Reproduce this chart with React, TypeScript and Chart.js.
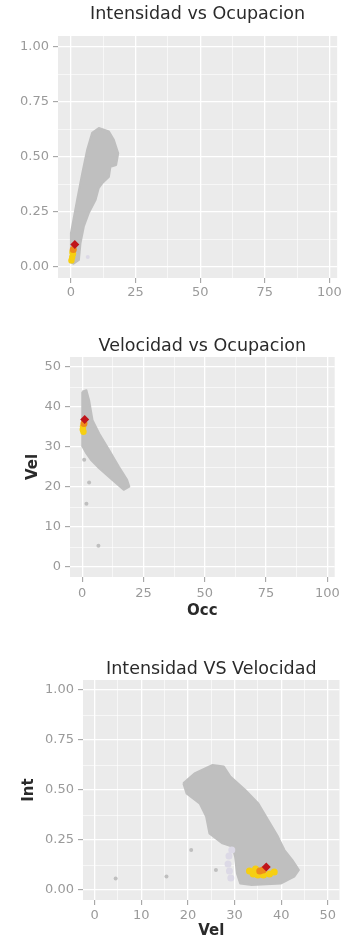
import React, { useEffect, useRef } from 'react';
import { Chart, registerables } from 'chart.js';

Chart.register(...registerables);

// ---------- Panel 1: Intensidad vs Ocupacion ----------
const P1_TITLE = 'Intensidad vs Ocupacion';
const P1_X_MAJOR = [0, 25, 50, 75, 100];
const P1_X_MINOR = [12.5, 37.5, 62.5, 87.5];
const P1_Y_MAJOR = [0, 0.25, 0.5, 0.75, 1];
const P1_Y_MINOR = [0.125, 0.375, 0.625, 0.875];
const P1_CLOUD_OCC = [0, 0, 2.4, 4.4, 6.3, 8.2, 10.8, 14.7, 16.6, 18.3, 17.5, 15.3, 14.7, 12.1, 10.8, 9.5, 6.9, 5.0, 3.7, 3.1, 1.0];
const P1_CLOUD_INT = [0.02, 0.154, 0.306, 0.428, 0.534, 0.61, 0.632, 0.616, 0.578, 0.517, 0.464, 0.456, 0.41, 0.38, 0.36, 0.304, 0.245, 0.184, 0.108, 0.032, 0.015];
const P1_HAZE_OCC = [6.5];
const P1_HAZE_INT = [0.045];
const P1_YELLOW_OCC = [0.2, 0.5, 0.8, 0.6];
const P1_YELLOW_INT = [0.03, 0.045, 0.06, 0.068];
const P1_ORANGE_OCC = [0.9];
const P1_ORANGE_INT = [0.08];
const P1_RED_OCC = [1.5];
const P1_RED_INT = [0.102];

// ---------- Panel 2: Velocidad vs Ocupacion ----------
const P2_TITLE = 'Velocidad vs Ocupacion';
const P2_X_TITLE = 'Occ';
const P2_Y_TITLE = 'Vel';
const P2_X_MAJOR = [0, 25, 50, 75, 100];
const P2_X_MINOR = [12.5, 37.5, 62.5, 87.5];
const P2_Y_MAJOR = [0, 10, 20, 30, 40, 50];
const P2_Y_MINOR = [5, 15, 25, 35, 45];
const P2_CLOUD_OCC = [0, 1.7, 2.8, 4.2, 6.9, 10.9, 14.9, 18.3, 19.2, 16.9, 12.2, 6.9, 3.5, 1.7, 0.1, 0, 0];
const P2_CLOUD_VEL = [43.8, 44.2, 41.7, 36.7, 33.4, 29.3, 25.1, 21.8, 20.1, 19.3, 21.8, 24.7, 26.8, 28.4, 30.1, 33.4, 39.2];
const P2_OUT_OCC = [0.8, 2.8, 1.7, 6.6];
const P2_OUT_VEL = [26.8, 21.1, 15.8, 5.3];
const P2_YELLOW_OCC = [0.3, 0.5, 0.2];
const P2_YELLOW_VEL = [35.1, 33.8, 34.4];
const P2_ORANGE_OCC = [0.7];
const P2_ORANGE_VEL = [35.9];
const P2_RED_OCC = [1.0];
const P2_RED_VEL = [36.9];

// ---------- Panel 3: Intensidad VS Velocidad ----------
const P3_TITLE = 'Intensidad VS Velocidad';
const P3_X_TITLE = 'Vel';
const P3_Y_TITLE = 'Int';
const P3_X_MAJOR = [0, 10, 20, 30, 40, 50];
const P3_X_MINOR = [5, 15, 25, 35, 45];
const P3_Y_MAJOR = [0, 0.25, 0.5, 0.75, 1];
const P3_Y_MINOR = [0.125, 0.375, 0.625, 0.875];
const P3_CLOUD_VEL = [19.0, 21.4, 25.3, 27.7, 29.1, 32.3, 35.1, 37.2, 39.3, 40.7, 42.4, 43.8, 42.8, 40.0, 33.7, 31.2, 30.5, 30.1, 29.5, 27.4, 24.6, 23.9, 22.5, 19.7];
const P3_CLOUD_INT = [0.534, 0.583, 0.625, 0.617, 0.567, 0.5, 0.433, 0.35, 0.267, 0.2, 0.15, 0.1, 0.067, 0.033, 0.025, 0.033, 0.083, 0.167, 0.217, 0.233, 0.283, 0.367, 0.433, 0.483];
const P3_OUT_VEL = [4.5, 15.4, 20.7, 26.0];
const P3_OUT_INT = [0.058, 0.067, 0.2, 0.1];
const P3_HAZE_VEL = [28.6, 28.9, 29.2, 28.8, 29.4];
const P3_HAZE_INT = [0.13, 0.095, 0.06, 0.17, 0.2];
const P3_YELLOW_VEL = [33.2, 34.0, 35.0, 36.2, 37.5, 38.5, 34.5];
const P3_YELLOW_INT = [0.095, 0.08, 0.075, 0.075, 0.08, 0.09, 0.105];
const P3_ORANGE_VEL = [35.4, 36.1];
const P3_ORANGE_INT = [0.095, 0.1];
const P3_RED_VEL = [36.8];
const P3_RED_INT = [0.115];

// ---------- styling ----------
const FONT = "'DejaVu Sans', 'Liberation Sans', sans-serif";
const GREY = '#bfbfbf';
const HAZE = '#dcd9e6';
const YELLOW = '#f6cf12';
const ORANGE = '#ee8a1c';
const RED = '#c0141a';
const PANEL_BG = '#ebebeb';
const TICK_COLOR = '#9a9a9a';
const TEXT_DARK = '#2a2a2a';

function zip(xs: number[], ys: number[]) {
  return xs.map((x, i) => ({ x, y: ys[i] }));
}
function ring(xs: number[], ys: number[]) {
  const p = zip(xs, ys);
  return p.concat([p[0]]);
}
function isIn(list: number[], v: number) {
  return list.some((m) => Math.abs(m - v) < 1e-6);
}

const panelBg = {
  id: 'panelBg',
  beforeDraw(chart: any) {
    const { ctx, chartArea: a } = chart;
    if (!a) return;
    ctx.save();
    ctx.fillStyle = PANEL_BG;
    ctx.fillRect(a.left, a.top, a.right - a.left, a.bottom - a.top);
    ctx.restore();
  },
};

type AxisSpec = {
  min: number;
  max: number;
  major: number[];
  minor: number[];
  fmt: (v: number) => string;
  size: number;
  tickPad: number;
  title?: string;
  titlePad?: number;
};

function makeAxis(kind: 'x' | 'y', s: AxisSpec) {
  const all = [...s.major, ...s.minor].sort((a, b) => a - b);
  return {
    type: 'linear',
    position: kind === 'x' ? 'bottom' : 'left',
    min: s.min,
    max: s.max,
    afterBuildTicks: (scale: any) => {
      scale.ticks = all.map((v) => ({ value: v }));
    },
    afterFit: (scale: any) => {
      if (kind === 'x') scale.height = s.size;
      else scale.width = s.size;
    },
    grid: {
      color: '#ffffff',
      lineWidth: (ctx: any) => (ctx.tick && isIn(s.major, ctx.tick.value) ? 1.3 : 0.6),
      tickColor: (ctx: any) => (ctx.tick && isIn(s.major, ctx.tick.value) ? TICK_COLOR : 'rgba(0,0,0,0)'),
      tickLength: 5,
      tickWidth: 1,
      drawTicks: true,
    },
    border: { display: false },
    ticks: {
      autoSkip: false,
      maxRotation: 0,
      minRotation: 0,
      color: TICK_COLOR,
      padding: s.tickPad,
      font: { family: FONT, size: 13 },
      callback: (v: any) => (isIn(s.major, Number(v)) ? s.fmt(Number(v)) : ''),
    },
    title: s.title
      ? {
          display: true,
          text: s.title,
          color: TEXT_DARK,
          font: { family: FONT, size: 15, weight: 'bold', lineHeight: 1.2 },
          padding: kind === 'x' ? { top: 0, bottom: s.titlePad ?? 0 } : { top: s.titlePad ?? 0, bottom: 0 },
        }
      : { display: false },
  };
}

function pointSet(xs: number[], ys: number[], color: string, radius: number, order: number, style = 'circle') {
  return {
    type: 'scatter',
    data: zip(xs, ys),
    backgroundColor: color,
    borderColor: color,
    borderWidth: 0,
    pointRadius: radius,
    pointStyle: style,
    order,
  };
}

function cloudSet(xs: number[], ys: number[]) {
  return {
    type: 'line',
    data: ring(xs, ys),
    fill: 'shape',
    backgroundColor: GREY,
    borderColor: GREY,
    borderWidth: 2,
    borderJoinStyle: 'round',
    pointRadius: 0,
    tension: 0,
    order: 10,
  };
}

type PanelProps = {
  top: number;
  height: number;
  title: string;
  titlePad: { top: number; bottom: number };
  padRight: number;
  x: AxisSpec;
  y: AxisSpec;
  datasets: any[];
};

function Panel(props: PanelProps) {
  const ref = useRef<HTMLCanvasElement | null>(null);
  useEffect(() => {
    if (!ref.current) return;
    const chart = new Chart(ref.current, {
      type: 'scatter',
      data: { datasets: props.datasets },
      options: {
        responsive: false,
        animation: false,
        devicePixelRatio: 1,
        layout: { padding: { left: 0, right: props.padRight, top: 0, bottom: 0 } },
        plugins: {
          legend: { display: false },
          tooltip: { enabled: false },
          title: {
            display: true,
            text: props.title,
            fullSize: false,
            color: TEXT_DARK,
            font: { family: FONT, size: 17.5, weight: 'normal', lineHeight: 1.2 },
            padding: props.titlePad,
          },
        },
        scales: {
          x: makeAxis('x', props.x),
          y: makeAxis('y', props.y),
        },
      } as any,
      plugins: [panelBg],
    } as any);
    return () => chart.destroy();
  }, []);
  return (
    <canvas
      ref={ref}
      width={344}
      height={props.height}
      style={{ position: 'absolute', left: 0, top: props.top, width: 344, height: props.height }}
    />
  );
}

const fmt2 = (v: number) => v.toFixed(2);
const fmt0 = (v: number) => String(Math.round(v));

export default function App() {
  return (
    <div style={{ position: 'absolute', left: 0, top: 0, width: 344, height: 940, background: '#ffffff' }}>
      <Panel
        top={0}
        height={300}
        title={P1_TITLE}
        titlePad={{ top: 4, bottom: 11 }}
        padRight={5}
        x={{ min: -5, max: 103, major: P1_X_MAJOR, minor: P1_X_MINOR, fmt: fmt0, size: 22, tickPad: 2 }}
        y={{ min: -0.05, max: 1.05, major: P1_Y_MAJOR, minor: P1_Y_MINOR, fmt: fmt2, size: 58, tickPad: 4 }}
        datasets={[
          pointSet(P1_RED_OCC, P1_RED_INT, RED, 4.5, 0, 'rectRot'),
          pointSet(P1_ORANGE_OCC, P1_ORANGE_INT, ORANGE, 3.5, 1),
          pointSet(P1_YELLOW_OCC, P1_YELLOW_INT, YELLOW, 3.2, 2),
          pointSet(P1_HAZE_OCC, P1_HAZE_INT, HAZE, 2, 3),
          cloudSet(P1_CLOUD_OCC, P1_CLOUD_INT),
        ]}
      />
      <Panel
        top={300}
        height={330}
        title={P2_TITLE}
        titlePad={{ top: 36, bottom: 0 }}
        padRight={5}
        x={{ min: -5, max: 103, major: P2_X_MAJOR, minor: P2_X_MINOR, fmt: fmt0, size: 53, tickPad: 4, title: P2_X_TITLE, titlePad: 9.6 }}
        y={{ min: -2.5, max: 52.5, major: P2_Y_MAJOR, minor: P2_Y_MINOR, fmt: fmt0, size: 70, tickPad: 4, title: P2_Y_TITLE, titlePad: 24.5 }}
        datasets={[
          pointSet(P2_RED_OCC, P2_RED_VEL, RED, 4.5, 0, 'rectRot'),
          pointSet(P2_ORANGE_OCC, P2_ORANGE_VEL, ORANGE, 3.5, 1),
          pointSet(P2_YELLOW_OCC, P2_YELLOW_VEL, YELLOW, 3.2, 2),
          pointSet(P2_OUT_OCC, P2_OUT_VEL, GREY, 2, 5),
          cloudSet(P2_CLOUD_OCC, P2_CLOUD_VEL),
        ]}
      />
      <Panel
        top={630}
        height={310}
        title={P3_TITLE}
        titlePad={{ top: 29, bottom: 0 }}
        padRight={0}
        x={{ min: -2.5, max: 52.5, major: P3_X_MAJOR, minor: P3_X_MINOR, fmt: fmt0, size: 40, tickPad: 3, title: P3_X_TITLE, titlePad: 0 }}
        y={{ min: -0.05, max: 1.05, major: P3_Y_MAJOR, minor: P3_Y_MINOR, fmt: fmt2, size: 83, tickPad: 4, title: P3_Y_TITLE, titlePad: 20 }}
        datasets={[
          pointSet(P3_RED_VEL, P3_RED_INT, RED, 4.5, 0, 'rectRot'),
          pointSet(P3_ORANGE_VEL, P3_ORANGE_INT, ORANGE, 3.5, 1),
          pointSet(P3_YELLOW_VEL, P3_YELLOW_INT, YELLOW, 3.5, 2),
          pointSet(P3_HAZE_VEL, P3_HAZE_INT, HAZE, 3.5, 3),
          pointSet(P3_OUT_VEL, P3_OUT_INT, GREY, 2, 5),
          cloudSet(P3_CLOUD_VEL, P3_CLOUD_INT),
        ]}
      />
    </div>
  );
}
